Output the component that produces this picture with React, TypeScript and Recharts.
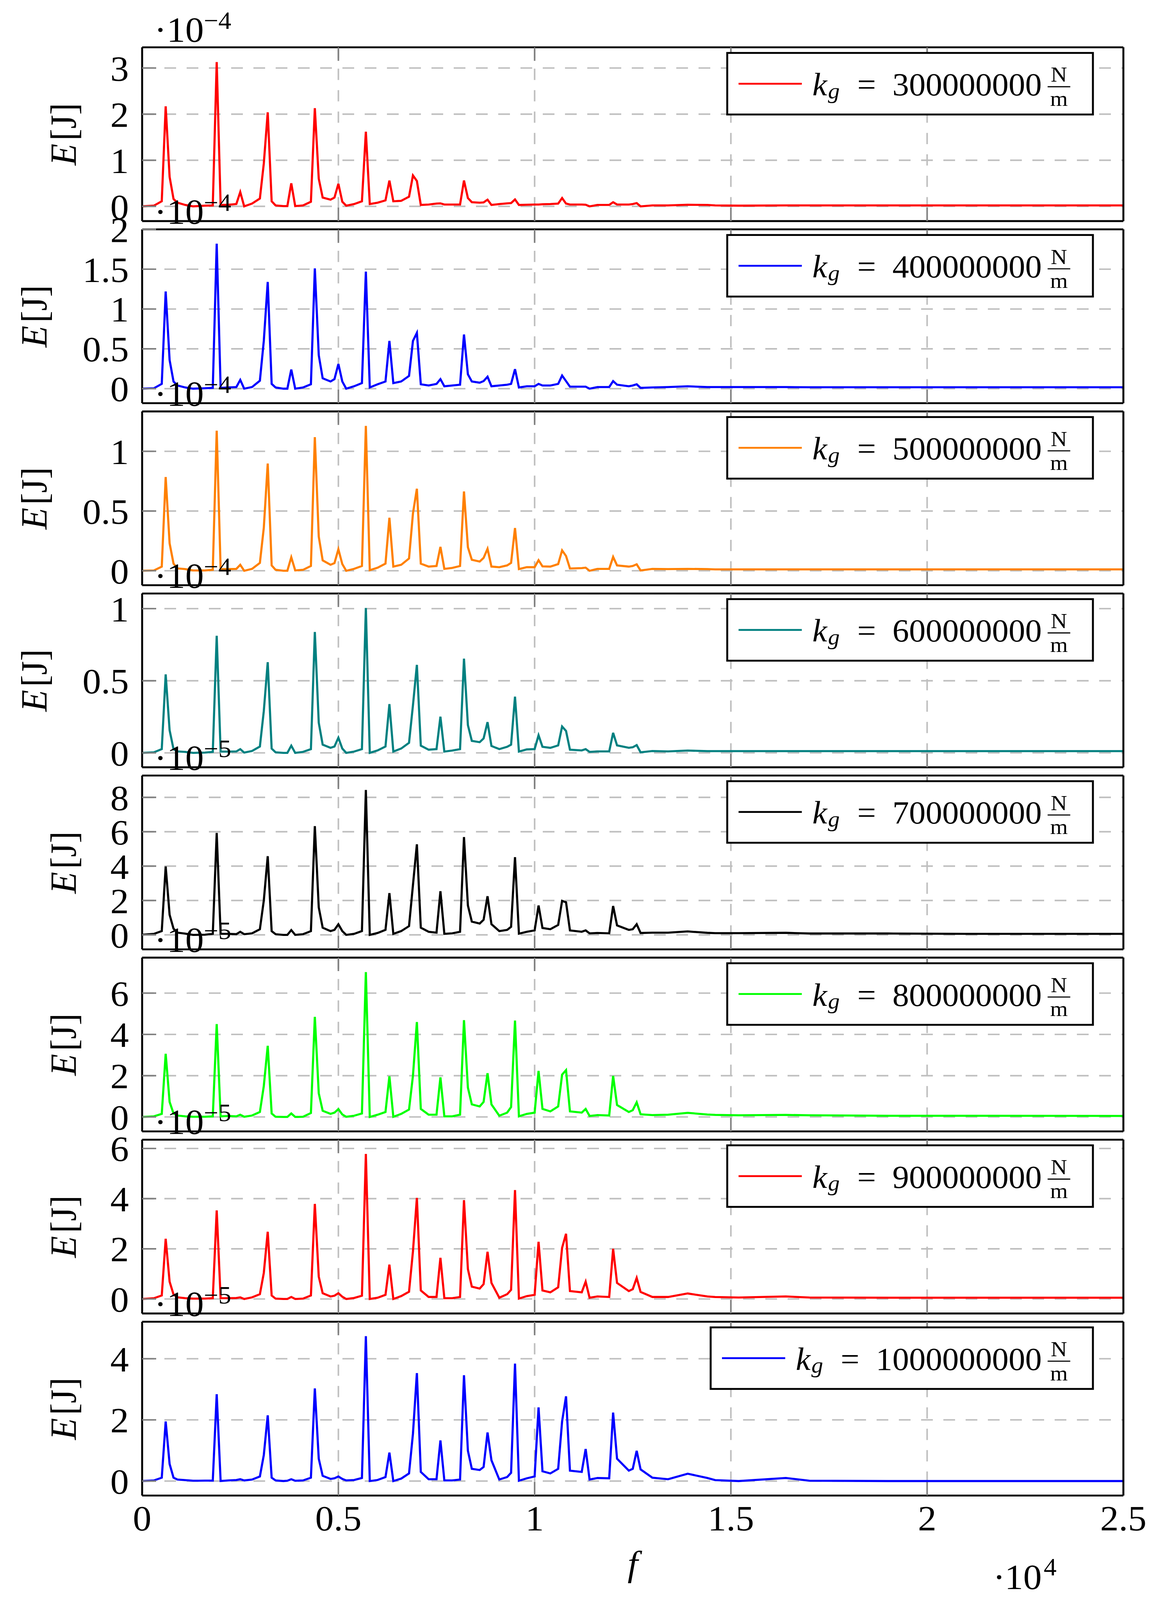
import { useMemo } from "react";
import { CartesianGrid, Line, LineChart, XAxis, YAxis } from "recharts";

// Page geometry (pixels).
const PAGE_W = 2958;
const PAGE_H = 4256;
// The captured picture stops near 4096px, so the whole figure is squeezed to fit.
const FIT_H = 4090;
const PLOT_LEFT = 364;
const PLOT_RIGHT = 2877;
const PLOT_H = 463;
const PANEL_STEP = 485;
const FIRST_TOP = 126;

const FONT = "Liberation Serif";
const GRID = "#bfbfbf";
const TICK_GRAY = "#808080";

// Frequency samples [Hz]; denser around the resonance peaks.
const FREQ = [
  0, 300, 500, 600, 700, 800, 900, 1100, 1300, 1600,
  1800, 1900, 2000, 2200, 2400, 2500, 2600, 2800, 3000, 3100,
  3200, 3300, 3400, 3600, 3700, 3800, 3900, 4100, 4300, 4400,
  4500, 4600, 4800, 4900, 5000, 5100, 5200, 5400, 5600, 5700,
  5800, 6000, 6200, 6300, 6400, 6600, 6800, 6900, 7000, 7100,
  7300, 7500, 7600, 7700, 7900, 8100, 8200, 8300, 8400, 8600,
  8700, 8800, 8900, 9100, 9300, 9400, 9500, 9600, 9800, 10000,
  10100, 10200, 10400, 10600, 10700, 10800, 10900, 11200, 11300, 11400,
  11600, 11900, 12000, 12100, 12400, 12500, 12600, 12700, 13000, 13400,
  13900, 14400, 14600, 15200, 16400, 17000, 19000, 21000, 25000,
];

// Energy per panel, in units of the panel's 10^exp factor.
const E_300 = [
  0, 0.015, 0.11, 2.17, 0.64, 0.16, 0.08, 0.03, 0, 0.015,
  0.02, 3.13, 0.03, 0.035, 0.05, 0.31, 0, 0.06, 0.17, 0.93,
  2.04, 0.11, 0.02, 0.005, 0.005, 0.5, 0.005, 0.02, 0.1, 2.13,
  0.6, 0.19, 0.145, 0.19, 0.49, 0.1, 0.015, 0.05, 0.11, 1.62,
  0.05, 0.08, 0.13, 0.56, 0.11, 0.12, 0.21, 0.67, 0.55, 0.03,
  0.04, 0.06, 0.065, 0.04, 0.04, 0.04, 0.56, 0.18, 0.09, 0.08,
  0.085, 0.145, 0.03, 0.05, 0.065, 0.07, 0.15, 0.03, 0.035, 0.04,
  0.04, 0.045, 0.05, 0.06, 0.18, 0.06, 0.04, 0.04, 0.035, 0,
  0.03, 0.03, 0.09, 0.04, 0.04, 0.05, 0.07, 0, 0.02, 0.02,
  0.035, 0.03, 0.02, 0.015, 0.02, 0.02, 0.02, 0.02, 0.02,
];
const E_400 = [
  0, 0.005, 0.06, 1.22, 0.36, 0.09, 0.04, 0.015, 0, 0.005,
  0.01, 1.82, 0.01, 0.015, 0.02, 0.11, 0, 0.02, 0.1, 0.6,
  1.34, 0.06, 0.015, 0, 0, 0.24, 0, 0.015, 0.055, 1.51,
  0.42, 0.13, 0.09, 0.12, 0.31, 0.09, 0, 0.03, 0.07, 1.47,
  0.015, 0.055, 0.09, 0.6, 0.07, 0.09, 0.16, 0.6, 0.7, 0.055,
  0.04, 0.06, 0.12, 0.03, 0.04, 0.05, 0.68, 0.18, 0.09, 0.075,
  0.095, 0.15, 0.03, 0.04, 0.05, 0.06, 0.245, 0.015, 0.03, 0.03,
  0.06, 0.04, 0.04, 0.06, 0.165, 0.095, 0.025, 0.025, 0.025, 0,
  0.02, 0.02, 0.095, 0.05, 0.03, 0.04, 0.055, 0.01, 0.015, 0.02,
  0.03, 0.02, 0.02, 0.02, 0.02, 0.018, 0.018, 0.018, 0.018,
];
const E_500 = [
  0, 0.003, 0.035, 0.785, 0.23, 0.06, 0.02, 0.014, 0.003, 0.003,
  0.008, 1.173, 0.014, 0.014, 0.016, 0.05, 0, 0.016, 0.066, 0.36,
  0.898, 0.045, 0.008, 0, 0, 0.113, 0.003, 0.008, 0.04, 1.119,
  0.286, 0.087, 0.05, 0.064, 0.18, 0.056, 0, 0.016, 0.04, 1.213,
  0.005, 0.026, 0.06, 0.444, 0.035, 0.05, 0.103, 0.48, 0.687, 0.06,
  0.035, 0.04, 0.2, 0.016, 0.024, 0.04, 0.664, 0.197, 0.092, 0.077,
  0.108, 0.184, 0.035, 0.03, 0.045, 0.066, 0.358, 0.014, 0.03, 0.03,
  0.089, 0.037, 0.035, 0.056, 0.171, 0.124, 0.019, 0.022, 0.026, 0,
  0.016, 0.016, 0.116, 0.045, 0.035, 0.04, 0.054, 0.003, 0.016, 0.014,
  0.016, 0.014, 0.012, 0.012, 0.012, 0.012, 0.012, 0.012, 0.012,
];
const E_600 = [
  0, 0.004, 0.026, 0.544, 0.157, 0.026, 0.01, 0.007, 0, 0.002,
  0.007, 0.812, 0.009, 0.009, 0.01, 0.026, 0.002, 0.013, 0.044, 0.29,
  0.629, 0.03, 0.004, 0, 0, 0.05, 0, 0.007, 0.026, 0.838,
  0.209, 0.057, 0.035, 0.044, 0.105, 0.03, 0, 0.009, 0.026, 1.004,
  0, 0.017, 0.044, 0.338, 0.009, 0.03, 0.07, 0.33, 0.61, 0.05,
  0.022, 0.026, 0.251, 0.009, 0.016, 0.026, 0.653, 0.192, 0.083, 0.074,
  0.1, 0.213, 0.048, 0.026, 0.042, 0.057, 0.39, 0.009, 0.024, 0.026,
  0.122, 0.042, 0.035, 0.052, 0.183, 0.152, 0.022, 0.017, 0.026, 0.007,
  0.01, 0.01, 0.139, 0.052, 0.035, 0.039, 0.054, 0.004, 0.013, 0.01,
  0.016, 0.012, 0.012, 0.012, 0.012, 0.012, 0.012, 0.012, 0.012,
];
const E_700 = [
  0.01, 0.06, 0.22, 3.98, 1.17, 0.36, 0.13, 0.07, 0, 0.01,
  0.06, 5.93, 0.06, 0.06, 0.04, 0.18, 0.04, 0.09, 0.33, 2.0,
  4.58, 0.22, 0.04, 0, 0, 0.28, 0, 0.04, 0.22, 6.33,
  1.6, 0.42, 0.22, 0.29, 0.62, 0.22, 0, 0.06, 0.22, 8.43,
  0, 0.11, 0.29, 2.43, 0.06, 0.22, 0.51, 2.9, 5.27, 0.42,
  0.18, 0.13, 2.54, 0.06, 0.09, 0.18, 5.69, 1.71, 0.77, 0.66,
  0.88, 2.25, 0.62, 0.22, 0.29, 0.47, 4.52, 0.07, 0.18, 0.26,
  1.71, 0.4, 0.33, 0.58, 1.98, 1.9, 0.26, 0.18, 0.26, 0.09,
  0.11, 0.09, 1.68, 0.55, 0.29, 0.33, 0.62, 0.11, 0.13, 0.13,
  0.2, 0.12, 0.1, 0.1, 0.12, 0.08, 0.08, 0.06, 0.06,
];
const E_800 = [
  0, 0.03, 0.15, 3.06, 0.73, 0.17, 0.07, 0.03, 0.01, 0.01,
  0.03, 4.5, 0.03, 0.05, 0.03, 0.11, 0.01, 0.07, 0.24, 1.5,
  3.45, 0.17, 0.01, 0, 0, 0.17, 0, 0.01, 0.19, 4.85,
  1.15, 0.3, 0.15, 0.21, 0.38, 0.12, 0.01, 0.06, 0.17, 7.02,
  0, 0.11, 0.24, 1.97, 0.01, 0.15, 0.36, 2.0, 4.6, 0.39,
  0.11, 0.11, 1.92, 0.03, 0.03, 0.11, 4.69, 1.42, 0.61, 0.51,
  0.73, 2.12, 0.61, 0.06, 0.21, 0.48, 4.67, 0.03, 0.15, 0.21,
  2.23, 0.39, 0.27, 0.51, 2.05, 2.27, 0.27, 0.21, 0.39, 0.05,
  0.09, 0.07, 1.99, 0.58, 0.24, 0.33, 0.71, 0.13, 0.09, 0.11,
  0.2, 0.12, 0.1, 0.08, 0.1, 0.08, 0.06, 0.06, 0.05,
];
const E_900 = [
  0, 0.03, 0.14, 2.4, 0.69, 0.18, 0.065, 0.03, 0.015, 0.015,
  0.03, 3.53, 0.03, 0.03, 0.04, 0.065, 0, 0.065, 0.19, 1.04,
  2.68, 0.14, 0.015, 0, 0, 0.08, 0, 0.015, 0.14, 3.79,
  0.89, 0.23, 0.1, 0.13, 0.23, 0.09, 0, 0.04, 0.13, 5.78,
  0, 0.05, 0.165, 1.37, 0, 0.115, 0.29, 1.9, 4.03, 0.34,
  0.08, 0.08, 1.64, 0.03, 0.03, 0.08, 3.94, 1.19, 0.49, 0.415,
  0.59, 1.88, 0.64, 0.05, 0.19, 0.365, 4.34, 0.015, 0.115, 0.165,
  2.28, 0.34, 0.265, 0.465, 2.04, 2.6, 0.315, 0.265, 0.69, 0.05,
  0.1, 0.08, 2.0, 0.64, 0.315, 0.39, 0.84, 0.28, 0.08, 0.08,
  0.22, 0.1, 0.08, 0.06, 0.1, 0.06, 0.05, 0.05, 0.05,
];
const E_1000 = [
  0, 0.02, 0.11, 1.95, 0.56, 0.11, 0.05, 0.03, 0.01, 0.015,
  0.015, 2.84, 0, 0.02, 0.035, 0.06, 0.02, 0.05, 0.15, 0.85,
  2.15, 0.11, 0.02, 0, 0.01, 0.06, 0.01, 0.02, 0.11, 3.03,
  0.73, 0.17, 0.07, 0.09, 0.15, 0.07, 0.02, 0.035, 0.1, 4.74,
  0, 0.035, 0.13, 0.93, 0, 0.08, 0.25, 1.55, 3.53, 0.3,
  0.06, 0.06, 1.33, 0.02, 0.02, 0.05, 3.46, 0.99, 0.4, 0.36,
  0.46, 1.59, 0.68, 0.05, 0.13, 0.27, 3.84, 0.01, 0.09, 0.15,
  2.41, 0.32, 0.25, 0.4, 1.95, 2.77, 0.34, 0.3, 1.05, 0.05,
  0.1, 0.09, 2.24, 0.73, 0.34, 0.4, 0.99, 0.38, 0.11, 0.06,
  0.24, 0.1, 0.03, 0, 0.1, 0.01, 0, 0, 0,
];

const SERIES = [E_300, E_400, E_500, E_600, E_700, E_800, E_900, E_1000];
const STIFFNESS = [
  "300000000", "400000000", "500000000", "600000000",
  "700000000", "800000000", "900000000", "1000000000",
];
const COLORS = [
  "#ff0000", "#0000ff", "#ff8000", "#008080",
  "#000000", "#00ff00", "#ff0000", "#0000ff",
];
const EXPONENTS = [-4, -4, -4, -4, -5, -5, -5, -5];
const Y_TICKS = [
  [0, 1, 2, 3],
  [0, 0.5, 1, 1.5, 2],
  [0, 0.5, 1],
  [0, 0.5, 1],
  [0, 2, 4, 6, 8],
  [0, 2, 4, 6],
  [0, 2, 4, 6],
  [0, 2, 4],
];
const Y_DOMAINS = [
  [-0.32, 3.45],
  [-0.182, 2.0],
  [-0.121, 1.334],
  [-0.1, 1.105],
  [-0.843, 9.27],
  [-0.7, 7.72],
  [-0.578, 6.35],
  [-0.474, 5.21],
];
const X_TICKS = [0, 5000, 10000, 15000, 20000, 25000];

const TICK_LINE = { stroke: TICK_GRAY, strokeWidth: 4 };
const AXIS_LINE = { stroke: "#000", strokeWidth: 5 };
const TICK_TEXT = { fill: "#000", fontSize: 95, fontFamily: FONT };

// Keeps the tick (and so its grid line) but draws no label.
const NoLabel = () => <g />;

const plotTop = (k: number) => FIRST_TOP + k * PANEL_STEP;

function Panel({ index }: { index: number }) {
  const data = useMemo(
    () => FREQ.map((f, i) => ({ f, e: SERIES[index][i] })),
    [index],
  );
  const last = index === SERIES.length - 1;
  const mt = 70;
  const mb = last ? 170 : 70;
  const chartH = mt + 1 + PLOT_H + 1 + mb;

  return (
    <div style={{ position: "absolute", left: 0, top: plotTop(index) - mt - 1 }}>
      <LineChart
        width={PAGE_W}
        height={chartH}
        data={data}
        margin={{ top: mt, right: PAGE_W - PLOT_RIGHT - 1, bottom: mb, left: 0 }}
      >
        <CartesianGrid stroke={GRID} strokeWidth={4} strokeDasharray="30 27" />
        <XAxis
          dataKey="f"
          type="number"
          domain={[0, 25000]}
          ticks={X_TICKS}
          interval={0}
          height={1}
          tick={last ? TICK_TEXT : NoLabel}
          tickFormatter={(v: number) => String(v / 10000)}
          tickLine={TICK_LINE}
          tickSize={-36}
          tickMargin={62}
          axisLine={AXIS_LINE}
        />
        <XAxis
          xAxisId="top"
          orientation="top"
          dataKey="f"
          type="number"
          domain={[0, 25000]}
          ticks={X_TICKS}
          interval={0}
          height={1}
          tick={NoLabel}
          tickLine={TICK_LINE}
          tickSize={-36}
          axisLine={AXIS_LINE}
        />
        <YAxis
          type="number"
          domain={Y_DOMAINS[index]}
          ticks={Y_TICKS[index]}
          interval={0}
          width={PLOT_LEFT}
          tick={TICK_TEXT}
          tickLine={TICK_LINE}
          tickSize={-36}
          tickMargin={70}
          axisLine={AXIS_LINE}
        />
        <YAxis
          yAxisId="right"
          orientation="right"
          type="number"
          domain={Y_DOMAINS[index]}
          ticks={Y_TICKS[index]}
          interval={0}
          width={1}
          tick={NoLabel}
          tickLine={TICK_LINE}
          tickSize={-36}
          axisLine={AXIS_LINE}
        />
        <Line
          type="linear"
          dataKey="e"
          stroke={COLORS[index]}
          strokeWidth={5.5}
          dot={false}
          isAnimationActive={false}
        />
      </LineChart>
    </div>
  );
}

// Text and legends drawn on top of the charts.
function Annotations() {
  return (
    <svg
      width={PAGE_W}
      height={PAGE_H}
      style={{ position: "absolute", left: 0, top: 0, pointerEvents: "none" }}
      fontFamily={FONT}
    >
      {SERIES.map((_, k) => {
        const T = plotTop(k);
        const decimal = Y_TICKS[k].some((t) => !Number.isInteger(t));
        const labelX = decimal ? 120 : 195;
        const digits = STIFFNESS[k].length;
        const numStart = 2668 - digits * 42.5;
        const boxTop = T + 15;
        return (
          <g key={k}>
            {/* y label */}
            <text
              transform={`translate(${labelX},${T + PLOT_H / 2}) rotate(-90)`}
              textAnchor="middle"
              fontSize={95}
            >
              <tspan fontStyle="italic">E</tspan>
              <tspan dx={8}>[J]</tspan>
            </text>

            {/* exponent */}
            <text y={T - 15} fontSize={95}>
              <tspan x={395}>·</tspan>
              <tspan x={427}>10</tspan>
            </text>
            <text x={522} y={T - 49} fontSize={66}>
              {"\u2212" + Math.abs(EXPONENTS[k])}
            </text>

            {/* legend */}
            <rect
              x={numStart - 423}
              y={boxTop}
              width={2799 - (numStart - 423)}
              height={164}
              fill="#fff"
              stroke="#000"
              strokeWidth={5}
            />
            <line
              x1={numStart - 394}
              x2={numStart - 232}
              y1={boxTop + 82}
              y2={boxTop + 82}
              stroke={COLORS[k]}
              strokeWidth={5}
            />
            <text x={numStart - 205} y={boxTop + 113} fontSize={85} fontStyle="italic">
              k
            </text>
            <text x={numStart - 165} y={boxTop + 121} fontSize={60} fontStyle="italic">
              g
            </text>
            <text x={numStart - 90} y={boxTop + 113} fontSize={85}>
              =
            </text>
            <text x={2668} y={boxTop + 113} fontSize={85} textAnchor="end">
              {STIFFNESS[k]}
            </text>
            <text x={2712} y={boxTop + 77} fontSize={58} textAnchor="middle">
              N
            </text>
            <line x1={2683} x2={2741} y1={boxTop + 90} y2={boxTop + 90} stroke="#000" strokeWidth={3} />
            <text x={2712} y={boxTop + 141} fontSize={58} textAnchor="middle">
              m
            </text>
          </g>
        );
      })}

      {/* x label and x exponent */}
      <text x={(PLOT_LEFT + PLOT_RIGHT) / 2} y={4198} fontSize={95} fontStyle="italic" textAnchor="middle">
        f
      </text>
      <text y={4233} fontSize={95}>
        <tspan x={2543}>·</tspan>
        <tspan x={2573}>10</tspan>
      </text>
      <text x={2673} y={4197} fontSize={66}>
        4
      </text>
    </svg>
  );
}

export default function App() {
  return (
    <div
      style={{
        position: "relative",
        width: PAGE_W,
        height: FIT_H,
        margin: -8,
        background: "#fff",
        overflow: "hidden",
      }}
    >
      <div
        style={{
          position: "absolute",
          left: 0,
          top: 0,
          width: PAGE_W,
          height: PAGE_H,
          transform: `scale(1, ${FIT_H / PAGE_H})`,
          transformOrigin: "0 0",
        }}
      >
        {SERIES.map((_, k) => (
          <Panel key={k} index={k} />
        ))}
        <Annotations />
      </div>
    </div>
  );
}
